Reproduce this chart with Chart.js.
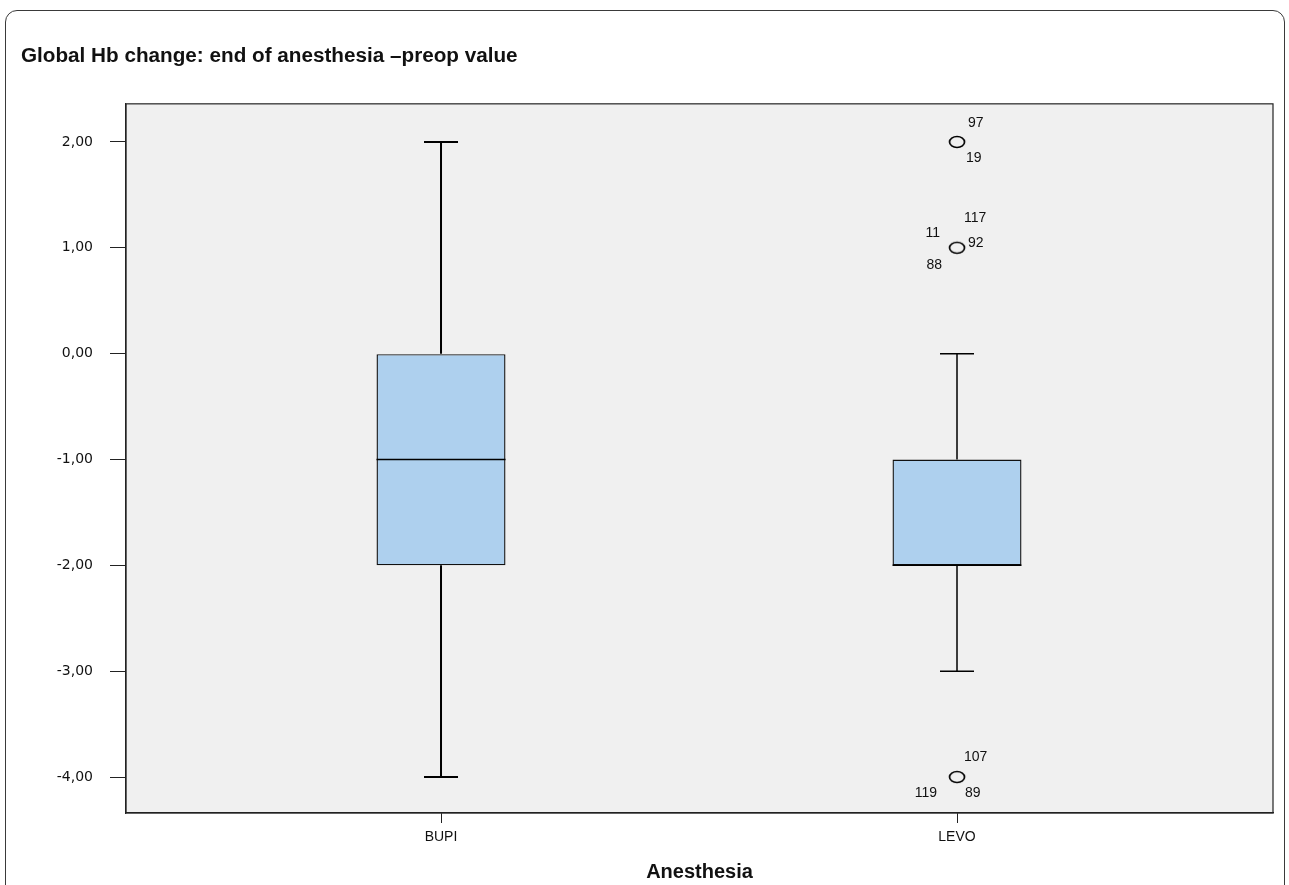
<!DOCTYPE html>
<html lang="en">
<head>
<meta charset="UTF-8">
<title>Global Hb change</title>
<script src="https://cdn.jsdelivr.net/npm/chart.js"></script>
<style>
    body { margin: 0; background: #fff; overflow: hidden; }
    .frame {
        position: absolute; left: 5px; top: 10px; width: 1280px; height: 920px;
        border: 1.5px solid #3a3a3a; border-radius: 12px; box-sizing: border-box;
    }
    .wrap { position: absolute; left: 0; top: 0; width: 1289px; height: 885px; }
</style>
</head>
<body>
<div class="frame"></div>
<div class="wrap"><canvas id="chart"></canvas></div>
<script>
// data
const categories = ['BUPI', 'LEVO'];
const whiskerLow = [-4, -3];
const q1 = [-2, -2];
const median = [-1, -2];
const q3 = [0, -1];
const whiskerHigh = [2, 0];
const yTicks = [2, 1, 0, -1, -2, -3, -4];
// outliers: group index, value, case numbers
const outlierGroup = [1, 1, 1];
const outlierValues = [2, 1, -4];
const outlierCases = [['97', '19'], ['117', '11', '92', '88'], ['107', '119', '89']];

Chart.defaults.font.family = '"Liberation Sans", Arial, sans-serif';
Chart.defaults.color = '#111';

// ellipse marker like the SPSS outlier symbol
const ring = document.createElement('canvas');
ring.width = 20; ring.height = 16;
const rc = ring.getContext('2d');
rc.strokeStyle = '#000'; rc.lineWidth = 1.7;
rc.beginPath(); rc.ellipse(10, 8, 7.5, 5.5, 0, 0, Math.PI * 2); rc.stroke();

// where each case label sits around its marker (dx, dy, align)
const labelSpots = [
    [[11, -18.5, 'left'], [9, 16.5, 'left']],
    [[7, -30, 'left'], [-17, -15, 'right'], [11, -5, 'left'], [-15, 17, 'right']],
    [[7, -19.5, 'left'], [-20, 16, 'right'], [8, 16, 'left']]
];

const boxPlugin = {
    id: 'boxParts',
    beforeDraw(chart) {
        const { ctx, chartArea: a } = chart;
        ctx.save();
        ctx.fillStyle = '#f0f0f0';
        ctx.fillRect(a.left, a.top, a.right - a.left, a.bottom - a.top);
        ctx.restore();
    },
    afterDatasetsDraw(chart) {
        const { ctx, scales: { x, y }, chartArea: a } = chart;
        ctx.save();
        categories.forEach((c, i) => {
            const cx = x.getPixelForValue(i);
            const half = (x.getPixelForValue(1) - x.getPixelForValue(0)) * 0.25 / 2;
            const cap = 17;
            ctx.strokeStyle = '#000';
            ctx.lineWidth = i === 0 ? 2 : 1.5;
            ctx.beginPath();
            ctx.moveTo(cx, y.getPixelForValue(q3[i])); ctx.lineTo(cx, y.getPixelForValue(whiskerHigh[i]));
            ctx.moveTo(cx, y.getPixelForValue(q1[i])); ctx.lineTo(cx, y.getPixelForValue(whiskerLow[i]));
            ctx.moveTo(cx - cap, y.getPixelForValue(whiskerHigh[i])); ctx.lineTo(cx + cap, y.getPixelForValue(whiskerHigh[i]));
            ctx.moveTo(cx - cap, y.getPixelForValue(whiskerLow[i])); ctx.lineTo(cx + cap, y.getPixelForValue(whiskerLow[i]));
            ctx.stroke();
            ctx.lineWidth = 1.5;
            ctx.beginPath();
            ctx.moveTo(cx - half, y.getPixelForValue(median[i])); ctx.lineTo(cx + half, y.getPixelForValue(median[i]));
            ctx.stroke();
        });
        // case numbers
        ctx.font = '14px "Liberation Sans", Arial, sans-serif';
        ctx.fillStyle = '#111';
        ctx.textBaseline = 'middle';
        outlierValues.forEach((v, k) => {
            const px = x.getPixelForValue(outlierGroup[k]);
            const py = y.getPixelForValue(v);
            outlierCases[k].forEach((txt, j) => {
                const s = labelSpots[k][j];
                ctx.textAlign = s[2];
                ctx.fillText(txt, px + s[0], py + s[1]);
            });
        });
        // frame top/right
        ctx.strokeStyle = '#222';
        ctx.lineWidth = 1.2;
        ctx.strokeRect(a.left, a.top, a.right - a.left, a.bottom - a.top);
        ctx.restore();
    }
};

new Chart(document.getElementById('chart'), {
    type: 'bar',
    data: {
        datasets: [{
            type: 'bar',
            data: categories.map((c, i) => ({ x: i, y: [q1[i], q3[i]] })),
            backgroundColor: '#aed0ee',
            borderColor: '#111',
            borderWidth: 1.4,
            borderSkipped: false,
            categoryPercentage: 1,
            barPercentage: 0.25
        }, {
            type: 'scatter',
            data: outlierValues.map((v, k) => ({ x: outlierGroup[k], y: v })),
            pointStyle: ring,
            pointRadius: 8
        }]
    },
    options: {
        responsive: true,
        maintainAspectRatio: false,
        animation: false,
        layout: { padding: { left: 21, right: 16, top: 0, bottom: 0 } },
        plugins: {
            legend: { display: false },
            tooltip: { enabled: false },
            title: {
                display: true,
                text: 'Global Hb change: end of anesthesia \u2013preop value',
                align: 'start',
                color: '#111',
                font: { size: 20.7, weight: 'bold' },
                padding: { top: 44, bottom: 35 }
            }
        },
        scales: {
            x: {
                type: 'linear',
                offset: false,
                min: -0.6105,
                max: 1.6124,
                afterBuildTicks: s => { s.ticks = categories.map((c, i) => ({ value: i })); },
                afterFit: s => { s.height = 72; },
                ticks: {
                    callback: v => categories[v],
                    font: { size: 14 },
                    color: '#111',
                    padding: 6,
                    maxRotation: 0
                },
                grid: { offset: false, drawOnChartArea: false, tickLength: 10, color: '#222' },
                border: { color: '#222', width: 1.2 },
                title: {
                    display: true,
                    text: 'Anesthesia',
                    color: '#111',
                    font: { size: 20, weight: 'bold' },
                    padding: { top: 0, bottom: 1 }
                }
            },
            y: {
                min: -4.34,
                max: 2.36,
                afterBuildTicks: s => { s.ticks = yTicks.map(v => ({ value: v })); },
                afterFit: s => { s.width = 105; },
                ticks: {
                    callback: v => v.toFixed(2).replace('.', ','),
                    font: { family: '"DejaVu Sans", sans-serif', size: 14 },
                    color: '#111',
                    padding: 17
                },
                grid: { drawOnChartArea: false, tickLength: 16, color: '#222' },
                border: { color: '#222', width: 1.2 }
            }
        }
    },
    plugins: [boxPlugin]
});
</script>
</body>
</html>
